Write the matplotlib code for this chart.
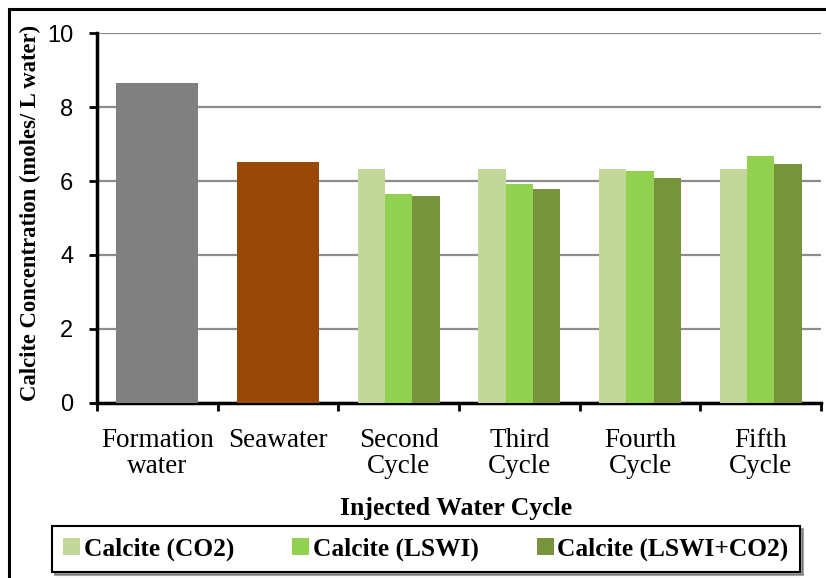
import matplotlib
matplotlib.use("Agg")
import matplotlib.pyplot as plt
from matplotlib.patches import Rectangle, Patch
import numpy as np

# Data
categories = ["Formation\nwater", "Seawater\n", "Second\nCycle", "Third\nCycle",
              "Fourth\nCycle", "Fifth\nCycle"]
single_values = [8.65, 6.51]          # Formation water, Seawater
single_colors = ["#808080", "#984807"]
series_names = ["Calcite (CO2)", "Calcite (LSWI)", "Calcite (LSWI+CO2)"]
calcite_co2 = [6.32, 6.32, 6.32, 6.32]
calcite_lswi = [5.66, 5.91, 6.27, 6.69]
calcite_lswi_co2 = [5.59, 5.78, 6.08, 6.45]
series_colors = ["#C4D79B", "#92D050", "#77933C"]
y_ticks = [0, 2, 4, 6, 8, 10]

serif = ["Liberation Serif", "DejaVu Serif"]
sans = ["Liberation Sans", "DejaVu Sans"]

fig = plt.figure(figsize=(8.26, 5.78), dpi=100)
ax = fig.add_axes([97 / 826, 1 - 402.7 / 578, (821 - 97) / 826, (402.7 - 33.3) / 578])

# single bars
group_w = 0.68
for i, (v, c) in enumerate(zip(single_values, single_colors)):
    ax.bar(i, v, width=group_w, color=c, zorder=3)

# grouped bars for the cycles
cycle_x = np.arange(2, 6)
bw = group_w / 3
for k, (vals, c) in enumerate(zip([calcite_co2, calcite_lswi, calcite_lswi_co2], series_colors)):
    ax.bar(cycle_x + (k - 1) * bw, vals, width=bw, color=c, zorder=3)

ax.set_xlim(-0.5, 5.5)
ax.set_ylim(0, 10)
ax.set_yticks(y_ticks)
ax.set_yticklabels([str(t) for t in y_ticks], fontfamily=sans, fontsize=17)
ax.yaxis.grid(True, color="#8C8C8C", linewidth=1.6, zorder=0)
ax.set_axisbelow(True)

# category boundary ticks and centred labels
ax.set_xticks(np.arange(-0.5, 6, 1))
ax.set_xticklabels([])
ax.set_xticks(np.arange(6), minor=True)
ax.set_xticklabels(categories, minor=True, fontfamily=serif, fontsize=19.5,
                   linespacing=1.08)
ax.tick_params(axis="x", which="minor", length=0, pad=18)
ax.tick_params(axis="x", which="major", length=6, width=2, direction="out")
ax.tick_params(axis="y", length=6, width=2, direction="out", pad=11)

for s in ["top", "right"]:
    ax.spines[s].set_visible(False)
for s in ["left", "bottom"]:
    ax.spines[s].set_linewidth(2.5)
    ax.spines[s].set_color("black")

fig.text(30 / 826, 1 - 213 / 578, "Calcite Concentration (moles/ L water)",
         rotation=90, ha="center", va="center", fontfamily=serif,
         fontweight="bold", fontsize=16.3)
fig.text(456 / 826, 1 - 508 / 578, "Injected Water Cycle", ha="center",
         va="center", fontfamily=serif, fontweight="bold", fontsize=18.5)

handles = [Patch(facecolor=c, edgecolor="none") for c in series_colors]
leg = fig.legend(handles, series_names, loc="center",
                 bbox_to_anchor=(426 / 826, 1 - 549 / 578), ncol=3,
                 prop={"family": serif, "weight": "bold", "size": 18.3},
                 frameon=True, fancybox=False, shadow=True, handlelength=0.65,
                 handleheight=0.65, handletextpad=0.15, columnspacing=2.3,
                 borderpad=0.45, borderaxespad=0)
leg.get_frame().set_edgecolor("black")
leg.get_frame().set_linewidth(1.5)

# outer border of the chart area
fig.patches.append(Rectangle((9 / 826, -0.05), 1.0, 1 - 9 / 578 + 0.05,
                             transform=fig.transFigure, fill=False,
                             edgecolor="black", linewidth=2.2))

fig.savefig("out.png", dpi=100)
